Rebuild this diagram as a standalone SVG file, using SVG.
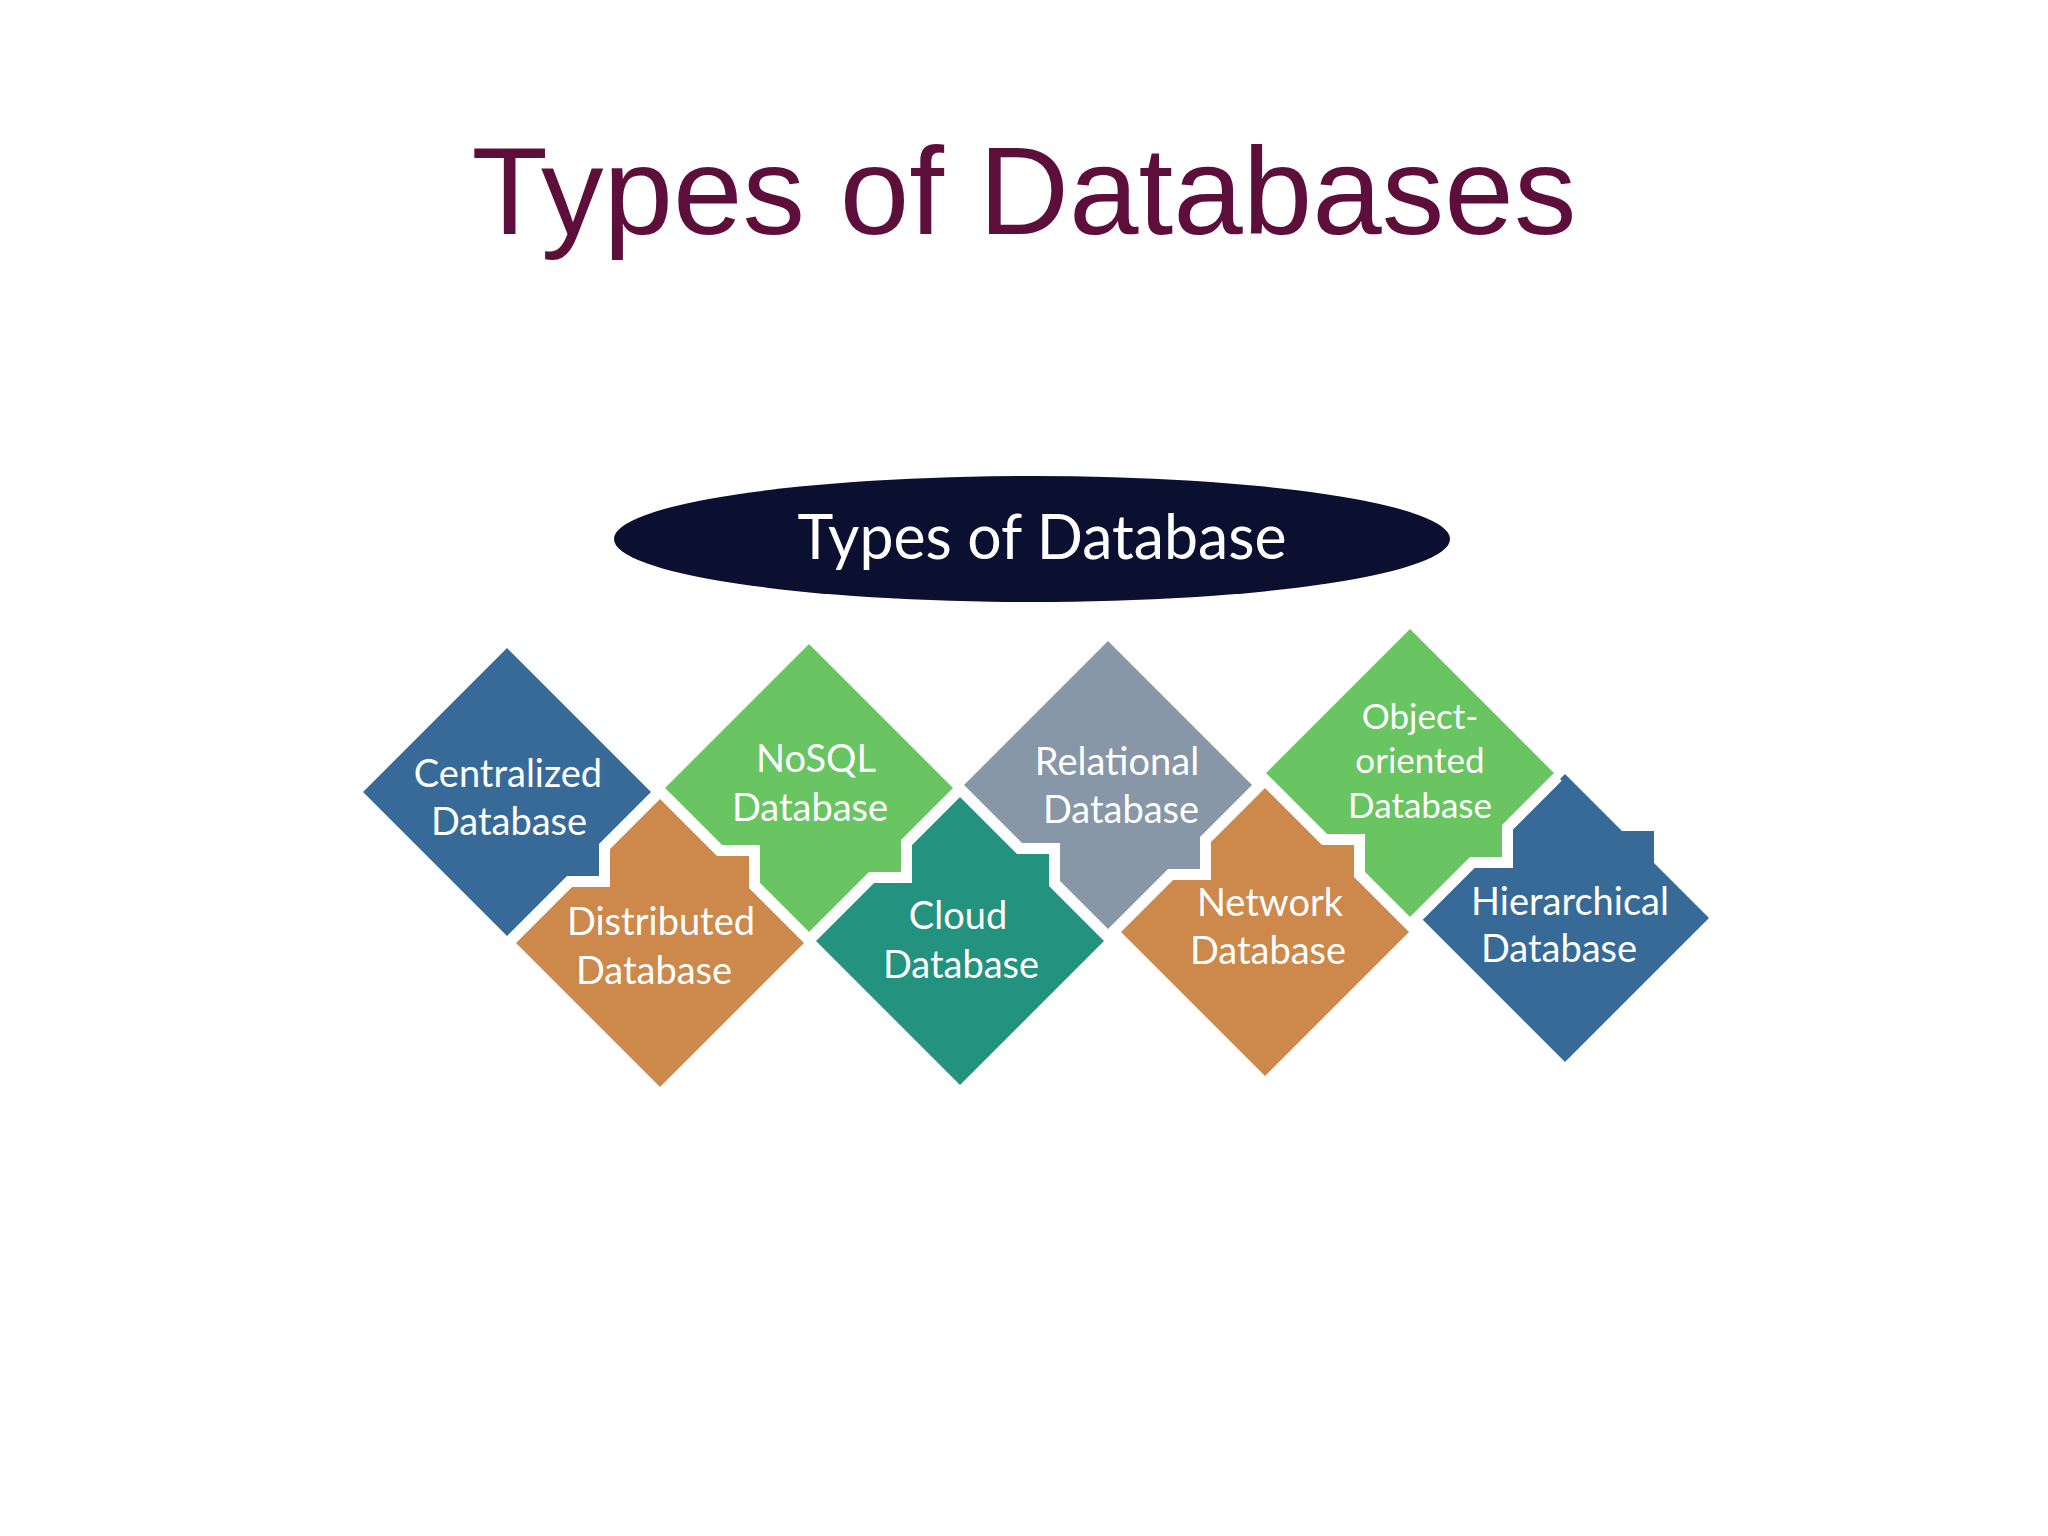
<svg xmlns="http://www.w3.org/2000/svg" width="2048" height="1536" viewBox="0 0 2048 1536">
<style>
.title{font-family:"Liberation Sans",Arial,sans-serif;font-size:125px;fill:#5e0e3a;text-anchor:middle}
.head{font-family:Lato,"Open Sans",sans-serif;font-size:62px;fill:#ffffff;text-anchor:middle}
.lbl{font-family:Lato,"Open Sans",sans-serif;font-size:38px;fill:#ffffff;text-anchor:middle}
.lbl.s{font-size:35px}
.gap{fill:none;stroke:#ffffff;stroke-width:22;stroke-linejoin:miter;stroke-miterlimit:4;stroke-linecap:butt}
.blue{fill:#386a97}
.orange{fill:#cd884b}
.green{fill:#68c562}
.teal{fill:#23937f}
.gray{fill:#8797a7}
</style>
<rect width="2048" height="1536" fill="#ffffff"/>
<text class="title" x="1024" y="234">Types of Databases</text>
<g id="root">
<ellipse cx="1032" cy="539" rx="418" ry="63" fill="#0b1030"/>
<text class="head" x="1042" y="559" textLength="489" lengthAdjust="spacingAndGlyphs">Types of Database</text>
</g>
<g id="connectors"/>
<g id="hierarchical">
<path class="gap" d="M1565,774 L1622,831 L1654,831 L1654,863 L1709,918"/>
<path class="blue" d="M1565,774 L1622,831 L1654,831 L1654,863 L1709,918 L1565,1062 L1421,918 Z"/>
<text class="lbl" x="1570" y="915">Hierarchical</text>
<text class="lbl" x="1559" y="962">Database</text>
</g>
<g id="object-oriented">
<path class="gap" d="M1554,773 L1502,825 L1502,857 L1470,857 L1410,917"/>
<path class="green" d="M1410,629 L1554,773 L1502,825 L1502,857 L1470,857 L1410,917 L1266,773 Z"/>
<text class="lbl s" x="1420" y="729">Object-</text>
<text class="lbl s" x="1420" y="773">oriented</text>
<text class="lbl s" x="1420" y="818">Database</text>
</g>
<g id="network">
<path class="gap" d="M1265,788 L1322,845 L1354,845 L1354,877 L1409,932"/>
<path class="orange" d="M1265,788 L1322,845 L1354,845 L1354,877 L1409,932 L1265,1076 L1121,932 Z"/>
<text class="lbl" x="1270" y="916">Network</text>
<text class="lbl" x="1268" y="964">Database</text>
</g>
<g id="relational">
<path class="gap" d="M1252,785 L1200,837 L1200,869 L1168,869 L1108,929"/>
<path class="gray" d="M1108,641 L1252,785 L1200,837 L1200,869 L1168,869 L1108,929 L964,785 Z"/>
<text class="lbl" x="1117" y="775">Relational</text>
<text class="lbl" x="1121" y="823">Database</text>
</g>
<g id="cloud">
<path class="gap" d="M960,797 L1017,854 L1049,854 L1049,886 L1104,941"/>
<path class="teal" d="M960,797 L1017,854 L1049,854 L1049,886 L1104,941 L960,1085 L816,941 Z"/>
<text class="lbl" x="958" y="929">Cloud</text>
<text class="lbl" x="961" y="978">Database</text>
</g>
<g id="nosql">
<path class="gap" d="M953,788 L901,840 L901,872 L869,872 L809,932"/>
<path class="green" d="M809,644 L953,788 L901,840 L901,872 L869,872 L809,932 L665,788 Z"/>
<text class="lbl" x="816" y="772">NoSQL</text>
<text class="lbl" x="810" y="821">Database</text>
</g>
<g id="distributed">
<path class="gap" d="M660,799 L717,856 L749,856 L749,888 L804,943"/>
<path class="orange" d="M660,799 L717,856 L749,856 L749,888 L804,943 L660,1087 L516,943 Z"/>
<text class="lbl" x="661" y="935">Distributed</text>
<text class="lbl" x="654" y="984">Database</text>
</g>
<g id="centralized">
<path class="gap" d="M651,792 L599,844 L599,876 L567,876 L507,936"/>
<path class="blue" d="M507,648 L651,792 L599,844 L599,876 L567,876 L507,936 L363,792 Z"/>
<text class="lbl" x="508" y="787">Centralized</text>
<text class="lbl" x="509" y="835">Database</text>
</g>
</svg>
